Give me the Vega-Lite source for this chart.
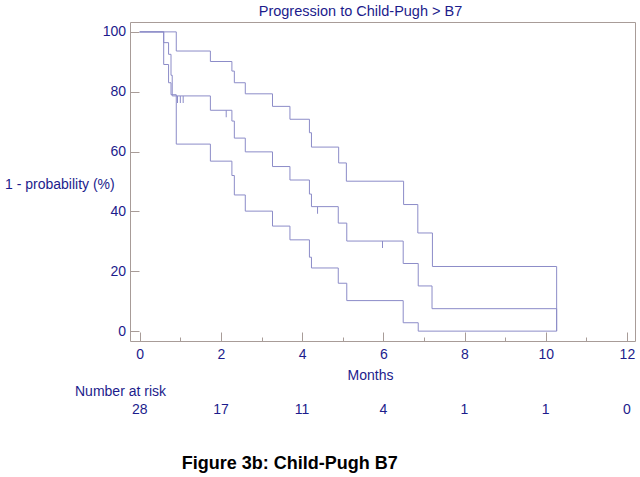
{
  "$schema": "https://vega.github.io/schema/vega-lite/v6.json",
  "background": "white",
  "padding": {"left": 4, "top": 3, "right": 4, "bottom": 5},
  "config": {
    "font": "Liberation Sans",
    "view": {"stroke": "#a89c98", "strokeWidth": 1},
    "concat": {"spacing": 2}
  },
  "datasets": {
    "km": [
      {"series": "upper", "month": 0, "pct": 100},
      {"series": "upper", "month": 0.9, "pct": 93.6},
      {"series": "upper", "month": 1.74, "pct": 90.1},
      {"series": "upper", "month": 2.27, "pct": 86.9},
      {"series": "upper", "month": 2.33, "pct": 83.0},
      {"series": "upper", "month": 2.6, "pct": 79.3},
      {"series": "upper", "month": 3.27, "pct": 75.1},
      {"series": "upper", "month": 3.7, "pct": 70.8},
      {"series": "upper", "month": 4.18, "pct": 66.3},
      {"series": "upper", "month": 4.23, "pct": 61.5},
      {"series": "upper", "month": 4.9, "pct": 56.2},
      {"series": "upper", "month": 5.09, "pct": 50.1},
      {"series": "upper", "month": 6.5, "pct": 42.3},
      {"series": "upper", "month": 6.85, "pct": 32.8},
      {"series": "upper", "month": 7.21, "pct": 21.6},
      {"series": "upper", "month": 10.27, "pct": 0},
      {"series": "middle", "month": 0, "pct": 100},
      {"series": "middle", "month": 0.59, "pct": 96.4},
      {"series": "middle", "month": 0.71, "pct": 92.5},
      {"series": "middle", "month": 0.77, "pct": 85.5},
      {"series": "middle", "month": 0.8, "pct": 78.6},
      {"series": "middle", "month": 1.74, "pct": 73.8},
      {"series": "middle", "month": 2.27, "pct": 70.2},
      {"series": "middle", "month": 2.33, "pct": 64.5},
      {"series": "middle", "month": 2.6, "pct": 59.9},
      {"series": "middle", "month": 3.27, "pct": 55.0},
      {"series": "middle", "month": 3.7, "pct": 50.5},
      {"series": "middle", "month": 4.18, "pct": 45.8},
      {"series": "middle", "month": 4.23, "pct": 41.6},
      {"series": "middle", "month": 4.89, "pct": 36.1},
      {"series": "middle", "month": 5.1, "pct": 30.1},
      {"series": "middle", "month": 6.49, "pct": 22.6},
      {"series": "middle", "month": 6.86, "pct": 15.1},
      {"series": "middle", "month": 7.2, "pct": 7.5},
      {"series": "middle", "month": 10.27, "pct": 0},
      {"series": "lower", "month": 0, "pct": 100},
      {"series": "lower", "month": 0.59, "pct": 89.1},
      {"series": "lower", "month": 0.71, "pct": 83.0},
      {"series": "lower", "month": 0.77, "pct": 79.0},
      {"series": "lower", "month": 0.9, "pct": 62.5},
      {"series": "lower", "month": 1.74, "pct": 56.8},
      {"series": "lower", "month": 2.27, "pct": 52.0},
      {"series": "lower", "month": 2.33, "pct": 45.5},
      {"series": "lower", "month": 2.6, "pct": 40.1},
      {"series": "lower", "month": 3.27, "pct": 35.1},
      {"series": "lower", "month": 3.7, "pct": 30.5},
      {"series": "lower", "month": 4.18, "pct": 24.7},
      {"series": "lower", "month": 4.23, "pct": 21.1},
      {"series": "lower", "month": 4.89, "pct": 16.0},
      {"series": "lower", "month": 5.1, "pct": 10.2},
      {"series": "lower", "month": 6.49, "pct": 2.8},
      {"series": "lower", "month": 6.86, "pct": 0},
      {"series": "lower", "month": 10.27, "pct": 0}
    ],
    "censor": [
      {"month": 0.93, "pct": 78.6},
      {"month": 1.0, "pct": 78.6},
      {"month": 1.07, "pct": 78.6},
      {"month": 2.13, "pct": 73.8},
      {"month": 4.38, "pct": 41.6},
      {"month": 5.98, "pct": 30.1}
    ],
    "risk": [
      {"month": 0, "n": "28"},
      {"month": 2, "n": "17"},
      {"month": 4, "n": "11"},
      {"month": 6, "n": "4"},
      {"month": 8, "n": "1"},
      {"month": 10, "n": "1"},
      {"month": 12, "n": "0"}
    ]
  },
  "title": {
    "text": "Figure 3b: Child-Pugh B7",
    "orient": "bottom",
    "anchor": "middle",
    "fontSize": 18,
    "fontWeight": "bold",
    "color": "#000000",
    "offset": 37,
    "dx": -30
  },
  "vconcat": [
    {
      "width": 505,
      "height": 319,
      "title": {
        "text": "Progression to Child-Pugh > B7",
        "fontSize": 14.5,
        "fontWeight": "normal",
        "color": "#1c1c8c",
        "anchor": "middle",
        "offset": 3,
        "dx": -22
      },
      "layer": [
        {
          "data": {"name": "km"},
          "mark": {"type": "line", "interpolate": "step-after", "strokeWidth": 1, "color": "#8c8cc8"},
          "encoding": {
            "x": {
              "field": "month",
              "type": "quantitative",
              "scale": {"domain": [-0.24, 12.2], "nice": false, "zero": false},
              "axis": {
                "values": [0, 1, 2, 3, 4, 5, 6, 7, 8, 9, 10, 11, 12],
                "labelExpr": "datum.value % 2 === 0 ? datum.label : ''",
                "tickSize": {"condition": {"test": "datum.value % 2 === 0", "value": -9}, "value": -4},
                "tickColor": "#a89c98",
                "domain": false,
                "grid": false,
                "labelFontSize": 14,
                "labelColor": "#1c1c8c",
                "labelPadding": 15,
                "labelFlush": false,
                "title": "Months",
                "titleFontSize": 14,
                "titleFontWeight": "normal",
                "titleColor": "#1c1c8c",
                "titleBaseline": "middle",
                "titleY": 34,
                "titleX": 240
              }
            },
            "y": {
              "field": "pct",
              "type": "quantitative",
              "scale": {"domain": [-3.3, 103.3], "nice": false, "zero": false},
              "axis": {
                "values": [0, 10, 20, 30, 40, 50, 60, 70, 80, 90, 100],
                "labelExpr": "datum.value % 20 === 0 ? datum.label : ''",
                "tickSize": {"condition": {"test": "datum.value % 20 === 0", "value": -9}, "value": -4},
                "tickColor": "#a89c98",
                "domain": false,
                "grid": false,
                "labelFontSize": 14,
                "labelColor": "#1c1c8c",
                "labelPadding": 13.5,
                "labelFlush": false,
                "title": "1 - probability (%)",
                "titleFontSize": 14,
                "titleFontWeight": "normal",
                "titleColor": "#1c1c8c",
                "titleAngle": 0,
                "titleAlign": "left",
                "titleBaseline": "middle",
                "titleX": -125.5,
                "titleY": 162
              }
            },
            "detail": {"field": "series"}
          }
        },
        {
          "data": {"name": "censor"},
          "mark": {"type": "tick", "orient": "vertical", "size": 7, "thickness": 1, "yOffset": 3.5, "color": "#8c8cc8", "opacity": 1},
          "encoding": {
            "x": {"field": "month", "type": "quantitative"},
            "y": {"field": "pct", "type": "quantitative"}
          }
        }
      ]
    },
    {
      "width": 505,
      "height": 16,
      "view": {"stroke": null},
      "title": {
        "text": "Number at risk",
        "fontSize": 14,
        "fontWeight": "normal",
        "color": "#1c1c8c",
        "anchor": "start",
        "dx": -55,
        "offset": 3
      },
      "data": {"name": "risk"},
      "mark": {"type": "text", "fontSize": 14, "color": "#1c1c8c", "baseline": "middle"},
      "encoding": {
        "x": {"field": "month", "type": "quantitative", "scale": {"domain": [-0.24, 12.2], "nice": false, "zero": false}, "axis": null},
        "text": {"field": "n"}
      }
    }
  ]
}
